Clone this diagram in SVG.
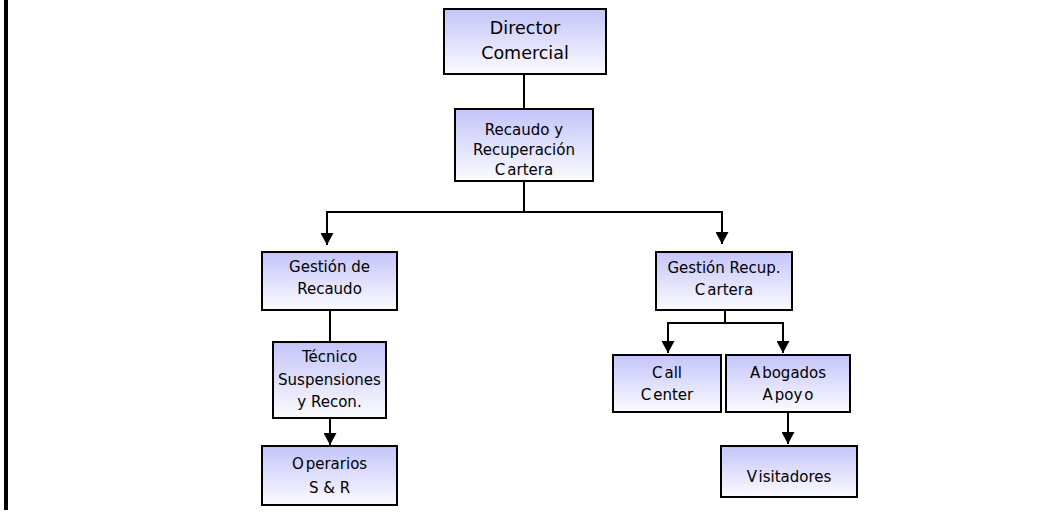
<svg xmlns="http://www.w3.org/2000/svg" width="1063" height="514" viewBox="0 0 1063 514">
  <style>
    .box { fill: url(#boxFill); stroke: #000; stroke-width: 2; }
    .lbl { font-family: "DejaVu Sans", Verdana, sans-serif; font-size: 15px; fill: #000; text-anchor: middle; }
    .big { font-size: 17.5px; }
    .wire { fill: none; stroke: #000; stroke-width: 2; }
  </style>
  <defs>
    <linearGradient id="boxFill" x1="0" y1="0" x2="0" y2="1">
      <stop offset="0" stop-color="#c4c4fa"/>
      <stop offset="1" stop-color="#fbfbff"/>
    </linearGradient>
    <marker id="arrow" viewBox="0 0 12 13" refX="12" refY="6.5" markerWidth="12" markerHeight="13" markerUnits="userSpaceOnUse" orient="auto">
      <path d="M0,0 L12,6.5 L0,13 Z" fill="#000"/>
    </marker>
  </defs>

  <rect width="1063" height="514" fill="#fff"/>
  <!-- page margin rule -->
  <rect x="4" y="0" width="4" height="510" fill="#000"/>

  <g id="connectors">
    <path class="wire" d="M524,74 V109"/>
    <path class="wire" d="M524,181 V212"/>
    <path class="wire" d="M524,212 H327 V245" marker-end="url(#arrow)"/>
    <path class="wire" d="M524,212 H722 V244" marker-end="url(#arrow)"/>
    <path class="wire" d="M330,310 V342"/>
    <path class="wire" d="M330,418 V445" marker-end="url(#arrow)"/>
    <path class="wire" d="M725,310 V323"/>
    <path class="wire" d="M725,323 H668 V353" marker-end="url(#arrow)"/>
    <path class="wire" d="M725,323 H783 V353" marker-end="url(#arrow)"/>
    <path class="wire" d="M788,412 V444" marker-end="url(#arrow)"/>
  </g>

  <g id="director-comercial">
    <rect class="box" x="444" y="9" width="162" height="65"/>
    <text class="lbl big" x="525" y="34">Director</text>
    <text class="lbl big" x="525" y="59">Comercial</text>
  </g>

  <g id="recaudo-recuperacion">
    <rect class="box" x="455" y="109" width="138" height="72"/>
    <text class="lbl" x="524" y="135">Recaudo y</text>
    <text class="lbl" x="524" y="155">Recuperación</text>
    <text class="lbl" x="524" y="175"><tspan>C</tspan><tspan dx="2">artera</tspan></text>
  </g>

  <g id="gestion-recaudo">
    <rect class="box" x="262" y="252" width="135" height="58"/>
    <text class="lbl" x="329.5" y="272">Gestión de</text>
    <text class="lbl" x="329.5" y="294">Recaudo</text>
  </g>

  <g id="tecnico">
    <rect class="box" x="273" y="342" width="113" height="76"/>
    <text class="lbl" x="329.5" y="362">Técnico</text>
    <text class="lbl" x="329.5" y="385">Suspensiones</text>
    <text class="lbl" x="329.5" y="407">y Recon.</text>
  </g>

  <g id="operarios">
    <rect class="box" x="262" y="446" width="135" height="59"/>
    <text class="lbl" x="329.5" y="469"><tspan>O</tspan><tspan dx="2">perarios</tspan></text>
    <text class="lbl" x="329.5" y="493">S &amp; R</text>
  </g>

  <g id="gestion-recup-cartera">
    <rect class="box" x="656" y="252" width="136" height="58"/>
    <text class="lbl" x="724" y="273">Gestión Recup.</text>
    <text class="lbl" x="724" y="295"><tspan>C</tspan><tspan dx="2">artera</tspan></text>
  </g>

  <g id="call-center">
    <rect class="box" x="613" y="355" width="108" height="57"/>
    <text class="lbl" x="667" y="378"><tspan>C</tspan><tspan dx="2">all</tspan></text>
    <text class="lbl" x="667" y="400"><tspan>C</tspan><tspan dx="2">enter</tspan></text>
  </g>

  <g id="abogados-apoyo">
    <rect class="box" x="726" y="355" width="124" height="57"/>
    <text class="lbl" x="788" y="378"><tspan>A</tspan><tspan dx="2">bogados</tspan></text>
    <text class="lbl" x="788" y="400"><tspan>A</tspan><tspan dx="2">poy</tspan><tspan dx="2">o</tspan></text>
  </g>

  <g id="visitadores">
    <rect class="box" x="721" y="446" width="136" height="51"/>
    <text class="lbl" x="789" y="482"><tspan>V</tspan><tspan dx="2">isitadores</tspan></text>
  </g>
</svg>
